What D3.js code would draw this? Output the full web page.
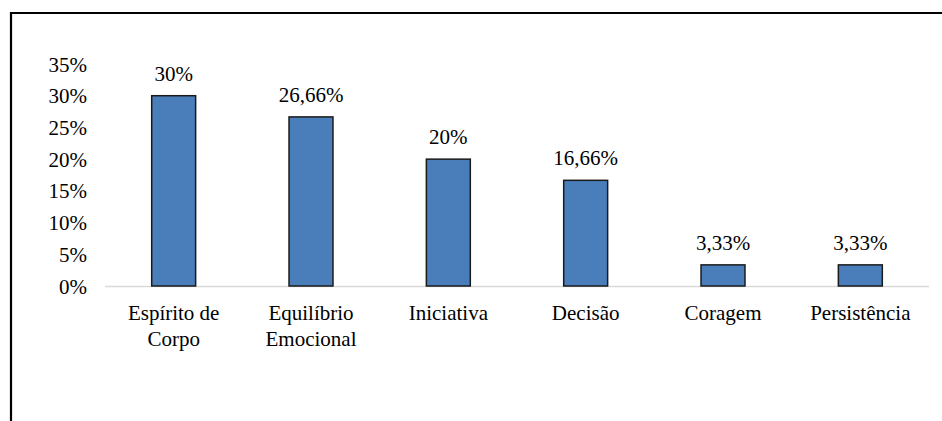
<!DOCTYPE html>
<html>
<head>
<meta charset="utf-8">
<script src="https://cdn.jsdelivr.net/npm/d3@7"></script>
<style>
  html, body { margin: 0; padding: 0; background: #fff; }
  svg { display: block; }
  svg text { font-family: "Liberation Serif", "Times New Roman", serif; font-size: 21px; fill: #000; }
</style>
</head>
<body>
<div id="chart"></div>
<script>
// chart data
const categories = [["Espírito de", "Corpo"], ["Equilíbrio", "Emocional"], ["Iniciativa"], ["Decisão"], ["Coragem"], ["Persistência"]];
const values = [30, 26.66, 20, 16.66, 3.33, 3.33];
const valueLabels = ["30%", "26,66%", "20%", "16,66%", "3,33%", "3,33%"];
const yTicks = [0, 5, 10, 15, 20, 25, 30, 35];

const width = 942;
const height = 421;

const svg = d3.select("#chart").append("svg")
  .attr("width", width)
  .attr("height", height);

// frame (top + left edge of the figure box)
svg.append("path")
  .attr("d", `M11,${height} V13 H${width}`)
  .attr("fill", "none")
  .attr("stroke", "#000")
  .attr("stroke-width", 2.2);

const x = d3.scaleBand()
  .domain(d3.range(categories.length))
  .range([105, 929])
  .paddingInner(0.68)
  .paddingOuter(0.34);

const y = d3.scaleLinear()
  .domain([0, 35])
  .range([286, 64]);

// y axis labels
const yAxis = svg.append("g")
  .attr("transform", "translate(87,0)")
  .call(d3.axisLeft(y).tickValues(yTicks).tickSize(0).tickPadding(0).tickFormat(d => d + "%"));
yAxis.select(".domain").remove();
yAxis.attr("font-family", null).attr("font-size", null);
yAxis.selectAll("text").attr("dy", "0.34em");

// baseline
svg.append("line")
  .attr("x1", x.range()[0])
  .attr("x2", x.range()[1])
  .attr("y1", y(0) + 0.5)
  .attr("y2", y(0) + 0.5)
  .attr("stroke", "#d9d9d9")
  .attr("stroke-width", 1.5);

// bars
svg.append("g")
  .selectAll("rect")
  .data(values)
  .join("rect")
  .attr("x", (d, i) => x(i))
  .attr("y", d => y(d))
  .attr("width", x.bandwidth())
  .attr("height", d => y(0) - y(d))
  .attr("fill", "#4a7ebb")
  .attr("stroke", "#1a1a1a")
  .attr("stroke-width", 1.5);

// value labels
svg.append("g")
  .selectAll("text")
  .data(values)
  .join("text")
  .attr("x", (d, i) => x(i) + x.bandwidth() / 2)
  .attr("y", d => y(d) - 15)
  .attr("text-anchor", "middle")
  .text((d, i) => valueLabels[i]);

// category labels
const cat = svg.append("g")
  .selectAll("text")
  .data(categories)
  .join("text")
  .attr("x", (d, i) => x(i) + x.bandwidth() / 2)
  .attr("y", 320)
  .attr("text-anchor", "middle");

cat.selectAll("tspan")
  .data(d => d)
  .join("tspan")
  .attr("x", function() { return this.parentNode.getAttribute("x"); })
  .attr("dy", (d, i) => i === 0 ? 0 : 26)
  .text(d => d);
</script>
</body>
</html>
